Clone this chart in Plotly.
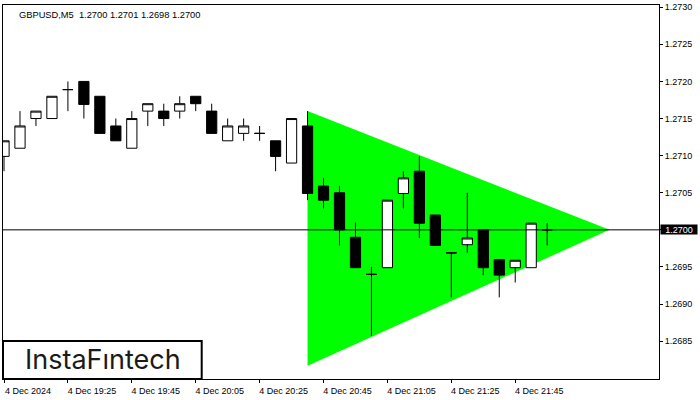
import plotly.graph_objects as go

times = ["2024-12-04 19:05", "2024-12-04 19:10", "2024-12-04 19:15", "2024-12-04 19:20",
         "2024-12-04 19:25", "2024-12-04 19:30", "2024-12-04 19:35", "2024-12-04 19:40",
         "2024-12-04 19:45", "2024-12-04 19:50", "2024-12-04 19:55", "2024-12-04 20:00",
         "2024-12-04 20:05", "2024-12-04 20:10", "2024-12-04 20:15", "2024-12-04 20:20",
         "2024-12-04 20:25", "2024-12-04 20:30", "2024-12-04 20:35", "2024-12-04 20:40",
         "2024-12-04 20:45", "2024-12-04 20:50", "2024-12-04 20:55", "2024-12-04 21:00",
         "2024-12-04 21:05", "2024-12-04 21:10", "2024-12-04 21:15", "2024-12-04 21:20",
         "2024-12-04 21:25", "2024-12-04 21:30", "2024-12-04 21:35", "2024-12-04 21:40",
         "2024-12-04 21:45", "2024-12-04 21:50", "2024-12-04 21:55"]
opens = [1.27099, 1.27110, 1.27150, 1.27150, 1.27189, 1.27200, 1.27180, 1.27140, 1.27110, 1.27160,
         1.27160, 1.27160, 1.27180, 1.27160, 1.27120, 1.27130, 1.27130, 1.27120, 1.27090, 1.27140,
         1.27059, 1.27050, 1.26990, 1.26940, 1.26949, 1.27049, 1.27079, 1.27020, 1.26969, 1.26980,
         1.27000, 1.26960, 1.26949, 1.26949, 1.27000]
highs = [1.27120, 1.27160, 1.27160, 1.27180, 1.27200, 1.27200, 1.27180, 1.27150, 1.27160, 1.27170,
         1.27170, 1.27180, 1.27180, 1.27170, 1.27150, 1.27150, 1.27140, 1.27120, 1.27150, 1.27160,
         1.27070, 1.27059, 1.27010, 1.26950, 1.27040, 1.27079, 1.27099, 1.27020, 1.26969, 1.27050,
         1.27000, 1.26960, 1.26959, 1.27009, 1.27009]
lows = [1.27079, 1.27110, 1.27140, 1.27150, 1.27160, 1.27150, 1.27130, 1.27120, 1.27110, 1.27140,
        1.27140, 1.27150, 1.27160, 1.27130, 1.27120, 1.27120, 1.27120, 1.27079, 1.27090, 1.27040,
        1.27029, 1.26979, 1.26949, 1.26857, 1.26949, 1.27029, 1.26989, 1.26979, 1.26909, 1.26969,
        1.26939, 1.26909, 1.26929, 1.26949, 1.26979]
closes = [1.27120, 1.27140, 1.27160, 1.27180, 1.27189, 1.27169, 1.27130, 1.27120, 1.27150, 1.27170,
          1.27150, 1.27170, 1.27170, 1.27130, 1.27140, 1.27140, 1.27130, 1.27099, 1.27150, 1.27049,
          1.27040, 1.27000, 1.26949, 1.26940, 1.27040, 1.27070, 1.27009, 1.26979, 1.26969, 1.26989,
          1.26949, 1.26939, 1.26959, 1.27009, 1.27000]

# triangle pattern vertices
tri_times = ["2024-12-04 20:40", "2024-12-04 22:14:30", "2024-12-04 20:40"]
tri_prices = [1.27160, 1.27000, 1.26817]

current_price = 1.27000
title_text = "GBPUSD,M5  1.2700 1.2701 1.2698 1.2700"

x_tickvals = ["2024-12-04 19:05", "2024-12-04 19:25", "2024-12-04 19:45", "2024-12-04 20:05",
              "2024-12-04 20:25", "2024-12-04 20:45", "2024-12-04 21:05", "2024-12-04 21:25",
              "2024-12-04 21:45"]
x_ticktext = ["4 Dec 2024", "4 Dec 19:25", "4 Dec 19:45", "4 Dec 20:05", "4 Dec 20:25",
              "4 Dec 20:45", "4 Dec 21:05", "4 Dec 21:25", "4 Dec 21:45"]
y_tickvals = [1.2685, 1.2690, 1.2695, 1.2700, 1.2705, 1.2710, 1.2715, 1.2720, 1.2725, 1.2730]

fig = go.Figure()

# triangle as a below-layer path shape so candles draw on top
tri_path = "M " + " L ".join(f"{t.replace(' ', '_')},{p}" for t, p in zip(tri_times, tri_prices)) + " Z"
fig.add_shape(type="path", xref="x", yref="y", path=tri_path,
              fillcolor="#00FF00", line=dict(width=0), layer="below")

fig.add_trace(go.Candlestick(
    x=times, open=opens, high=highs, low=lows, close=closes,
    increasing=dict(fillcolor="white", line=dict(color="black", width=1)),
    decreasing=dict(fillcolor="black", line=dict(color="black", width=1)),
    whiskerwidth=0, showlegend=False, hoverinfo="skip"))

fig.add_shape(type="line", xref="paper", x0=0, x1=1, yref="y", y0=current_price, y1=current_price,
              line=dict(color="black", width=1))

# logo box
fig.add_shape(type="rect", xref="paper", yref="paper", x0=0, x1=0.3029, y0=0, y1=0.1016,
              line=dict(color="black", width=2), fillcolor="white", layer="above")
fig.add_annotation(xref="paper", yref="paper", x=0.1518, y=0.0517, text="InstaFıntech",
                   showarrow=False, font=dict(family="Inter", size=27, color="#1a1a1a"),
                   xanchor="center", yanchor="middle")

fig.add_annotation(xref="paper", yref="paper", x=0, y=1, xanchor="left", yanchor="top",
                   xshift=14, yshift=-3, text=title_text, showarrow=False,
                   font=dict(family="Liberation Sans", size=9.3, color="black"))

fig.add_annotation(xref="paper", yref="y", x=1, y=current_price, xanchor="left", yanchor="middle",
                   xshift=1, text="1.2700", showarrow=False, bgcolor="black",
                   width=36, height=9, align="center",
                   font=dict(family="Liberation Sans", size=9, color="white"), borderpad=0)

fig.update_layout(
    width=700, height=400,
    margin=dict(l=2, r=41, t=2, b=21),
    paper_bgcolor="white", plot_bgcolor="white",
    boxgap=0.36, boxgroupgap=0,
    font=dict(family="Liberation Sans", size=9, color="black"),
    xaxis=dict(
        type="date", range=["2024-12-04 19:04:41", "2024-12-04 22:30:00"],
        rangeslider=dict(visible=False), showgrid=False, zeroline=False,
        showline=True, mirror=True, linecolor="black", linewidth=1,
        ticks="outside", ticklen=3, tickcolor="black",
        tickvals=x_tickvals, ticktext=x_ticktext, ticklabelshift=24,
        ticklabeloverflow="allow",
        tickfont=dict(family="Liberation Sans", size=9, color="black")),
    yaxis=dict(
        range=[1.26799, 1.27303], side="right", showgrid=False, zeroline=False,
        showline=True, mirror=True, linecolor="black", linewidth=1,
        ticks="outside", ticklen=3, tickcolor="black",
        tickvals=y_tickvals, tickformat=".4f", ticklabeloverflow="allow",
        tickfont=dict(family="Liberation Sans", size=9, color="black")),
)

fig.write_html("out.html", config={"displayModeBar": False},
               post_script="document.body.style.margin='0';")
